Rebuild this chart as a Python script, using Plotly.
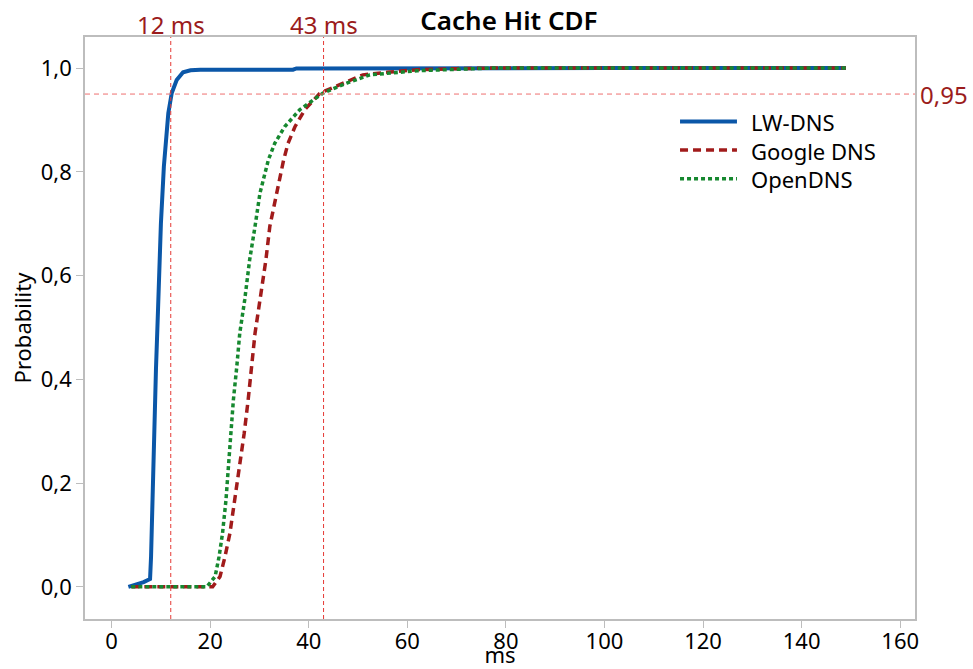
import plotly.graph_objects as go

# ---- data ----
lw_x = [3.4, 5.0, 6.5, 7.8, 8.0, 8.3, 8.6, 9.0, 9.4, 9.7, 10.0, 10.6, 11.1, 11.5, 12.2,
        13.2, 14.5, 16.0, 18.0, 36.8, 37.5, 60.0, 100.0, 149.0]
lw_y = [0.0, 0.004, 0.009, 0.015, 0.058, 0.167, 0.296, 0.42, 0.53, 0.62, 0.70, 0.81, 0.87,
        0.913, 0.952, 0.977, 0.992, 0.996, 0.997, 0.997, 0.9995, 1.0, 1.0, 1.0]

google_x = [4.0, 10.0, 20.5, 22.0, 23.0, 24.0, 25.0, 26.0, 26.9, 27.7, 28.4, 29.1, 30.1,
            31.3, 32.1, 33.5, 34.9, 35.8, 37.2, 39.2, 42.3, 47.0, 51.0, 56.0, 62.0, 70.0,
            77.0, 100.0, 149.0]
google_y = [0.0, 0.0, 0.0, 0.02, 0.058, 0.103, 0.167, 0.232, 0.296, 0.36, 0.425, 0.489,
            0.553, 0.63, 0.695, 0.759, 0.823, 0.855, 0.887, 0.92, 0.952, 0.971, 0.987,
            0.992, 0.997, 0.999, 1.0, 1.0, 1.0]

open_x = [4.0, 10.0, 19.3, 21.0, 21.8, 22.5, 23.2, 23.7, 24.2, 24.7, 25.4, 26.0, 27.0,
          28.0, 29.1, 30.1, 31.8, 33.1, 35.1, 38.2, 42.9, 47.7, 52.4, 55.8, 62.0, 68.0,
          77.0, 100.0, 149.0]
open_y = [0.0, 0.0, 0.0, 0.02, 0.058, 0.103, 0.167, 0.232, 0.296, 0.36, 0.425, 0.489,
          0.553, 0.63, 0.695, 0.759, 0.823, 0.855, 0.887, 0.92, 0.952, 0.971, 0.987,
          0.990, 0.995, 0.997, 1.0, 1.0, 1.0]

series_names = ["LW-DNS", "Google DNS", "OpenDNS"]
ref_x_values = [12, 43]
ref_x_labels = ["12 ms", "43 ms"]
ref_y_value = 0.95
ref_y_label = "0,95"
x_ticks = [0, 20, 40, 60, 80, 100, 120, 140, 160]
y_ticks = [0.0, 0.2, 0.4, 0.6, 0.8, 1.0]

FONT = "Noto Sans"
DARKRED = "#9B1C1C"
series_styles = [
    dict(color="#0B57A8", width=4),
    dict(color="#A11B1B", width=3.5, dash="8px,5px"),
    dict(color="#16882F", width=3.5, dash="4px,3px"),
]
series_data = [(lw_x, lw_y), (google_x, google_y), (open_x, open_y)]

fig = go.Figure()
for name, (xs, ys), st in zip(series_names, series_data, series_styles):
    fig.add_trace(go.Scatter(x=xs, y=ys, mode="lines", name=name, line=st,
                             showlegend=False))

# legend drawn in paper coordinates (compact spacing like the reference)
leg_x0, leg_x1, leg_text_x = 0.7169, 0.7855, 0.8000
leg_rows = [0.8550, 0.8058, 0.7566]
for st, ly in zip(series_styles, leg_rows):
    fig.add_shape(type="line", xref="paper", yref="paper", x0=leg_x0, x1=leg_x1,
                  y0=ly, y1=ly, line=st)
fig.add_annotation(x=leg_text_x, y=leg_rows[1], xref="paper", yref="paper",
                   xanchor="left", yanchor="middle", align="left",
                   text="<br>".join(series_names), showarrow=False,
                   font=dict(family=FONT, size=22, color="black"))

for xv, lab in zip(ref_x_values, ref_x_labels):
    fig.add_shape(type="line", xref="x", yref="paper", x0=xv, x1=xv, y0=0, y1=1,
                  line=dict(color="#E53935", width=1, dash="4px,3px"), layer="above")
    fig.add_annotation(x=xv, xref="x", y=1, yref="paper", yanchor="bottom", yshift=-6,
                       text=lab, showarrow=False,
                       font=dict(family=FONT, size=24, color=DARKRED))

fig.add_shape(type="line", xref="paper", yref="y", x0=0, x1=1, y0=ref_y_value, y1=ref_y_value,
              line=dict(color="#EE7070", width=1, dash="5px,4px"), layer="above")
fig.add_annotation(x=1, xref="paper", y=ref_y_value, yref="y", xanchor="left", xshift=3,
                   text=ref_y_label, showarrow=False,
                   font=dict(family=FONT, size=24, color=DARKRED))

axis_common = dict(showline=True, linecolor="#BDBDBD", linewidth=1.5, mirror=True,
                   ticks="outside", ticklen=7, tickcolor="#BDBDBD", tickwidth=1,
                   showgrid=False, zeroline=False, automargin=False,
                   tickfont=dict(family=FONT, size=22, color="black"))

fig.update_layout(
    width=973, height=669,
    margin=dict(l=85, r=58, t=37, b=50),
    paper_bgcolor="white", plot_bgcolor="white",
    separators=",.",
    title=dict(text="Cache Hit CDF", x=0.523, xanchor="center", y=0.982, yanchor="top",
               font=dict(family=FONT, size=26, color="black", weight=600)),
    xaxis=dict(range=[-5.4, 163], tickvals=x_ticks, ticklabelstandoff=-5,
               title=dict(text="ms", standoff=4, font=dict(family=FONT, size=22, color="black")),
               **axis_common),
    yaxis=dict(range=[-0.062, 1.060], tickvals=y_ticks, tickformat=".1f",
               title=dict(text="Probability", standoff=3,
                          font=dict(family=FONT, size=22, color="black")),
               **axis_common),
    showlegend=False,
)

fig.write_html("out.html")
